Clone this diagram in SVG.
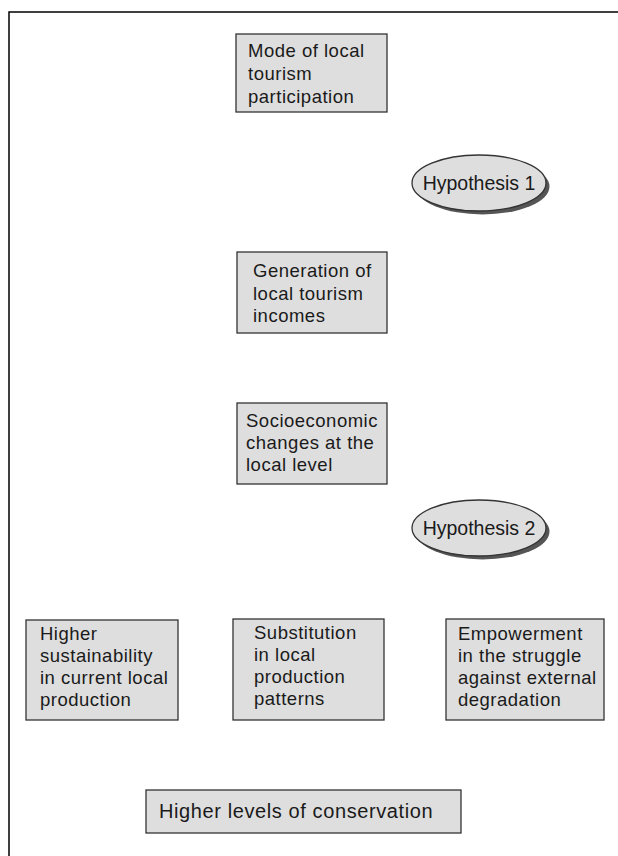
<svg xmlns="http://www.w3.org/2000/svg" width="618" height="856" viewBox="0 0 618 856">
<style>
.box{fill:#dedede;stroke:#333;stroke-width:1.3}
.ell{fill:#dedede;stroke:#333;stroke-width:1.3}
.sh{fill:#555;stroke:none}
text{font-family:"Liberation Sans",Arial,sans-serif;font-size:18.5px;letter-spacing:0.5px;fill:#1a1a1a}
text.h{font-size:19.5px;letter-spacing:0}
text.big{font-size:20px;letter-spacing:0.6px}
.frame{stroke:#000;stroke-width:1.5;fill:none}
</style>
<path class="frame" d="M9,856 V12 H618"/>
<g id="connectors"></g>
<g id="n1">
<rect class="box" x="236" y="34" width="151" height="78"/>
<text x="248" y="57">Mode of local</text>
<text x="248" y="80">tourism</text>
<text x="248" y="103">participation</text>
</g>
<g id="h1">
<ellipse class="sh" cx="482.500" cy="186.500" rx="67" ry="28"/>
<ellipse class="ell" cx="479" cy="183" rx="67" ry="28"/>
<text class="h" x="479" y="190" text-anchor="middle">Hypothesis 1</text>
</g>
<g id="n2">
<rect class="box" x="237" y="252" width="150" height="81"/>
<text x="253" y="277">Generation of</text>
<text x="253" y="300">local tourism</text>
<text x="253" y="322">incomes</text>
</g>
<g id="n3">
<rect class="box" x="237" y="403" width="150" height="81"/>
<text x="246" y="427">Socioeconomic</text>
<text x="246" y="449">changes at the</text>
<text x="246" y="471">local level</text>
</g>
<g id="h2">
<ellipse class="sh" cx="482.500" cy="531.500" rx="67" ry="28"/>
<ellipse class="ell" cx="479" cy="528" rx="67" ry="28"/>
<text class="h" x="479" y="535" text-anchor="middle">Hypothesis 2</text>
</g>
<g id="n4">
<rect class="box" x="26" y="620" width="152" height="100"/>
<text x="40" y="640">Higher</text>
<text x="40" y="662">sustainability</text>
<text x="40" y="684">in current local</text>
<text x="40" y="706">production</text>
</g>
<g id="n5">
<rect class="box" x="233" y="619" width="151" height="101"/>
<text x="254" y="639">Substitution</text>
<text x="254" y="661">in local</text>
<text x="254" y="683">production</text>
<text x="254" y="705">patterns</text>
</g>
<g id="n6">
<rect class="box" x="446" y="619" width="158" height="101"/>
<text x="458" y="640">Empowerment</text>
<text x="458" y="662">in the struggle</text>
<text x="458" y="684">against external</text>
<text x="458" y="706">degradation</text>
</g>
<g id="n7">
<rect class="box" x="146" y="790" width="315" height="43"/>
<text class="big" x="159" y="818">Higher levels of conservation</text>
</g>
</svg>
